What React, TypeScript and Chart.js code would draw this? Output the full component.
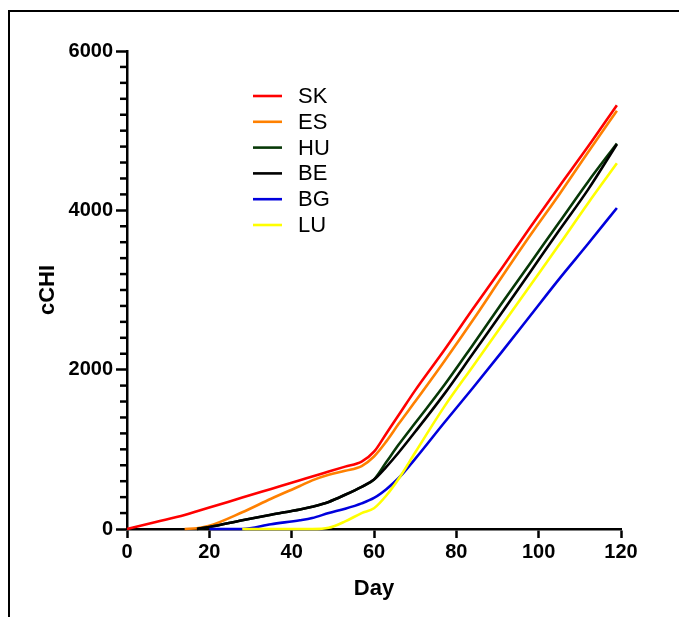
import React, { useEffect, useRef } from "react";
import { Chart, registerables } from "chart.js";

Chart.register(...registerables);

const days = [0, 7, 14, 17, 20, 28, 35, 42, 45, 49, 53, 57, 60, 63, 66, 70, 77, 84, 91, 98, 105, 112, 119];
const seriesNames = ["SK", "ES", "HU", "BE", "BG", "LU"];
const skValues = [0, 88, 176, 223, 270, 394, 503, 612, 659, 721, 783, 845, 970, 1200, 1430, 1740, 2240, 2760, 3270, 3790, 4300, 4800, 5320];
const esValues = [null, null, 0, 10, 40, 210, 380, 540, 610, 680, 730, 790, 910, 1100, 1320, 1600, 2100, 2620, 3160, 3690, 4200, 4730, 5250];
const huValues = [null, null, null, 0, 25, 110, 180, 245, 280, 340, 430, 530, 620, 840, 1060, 1330, 1800, 2310, 2830, 3340, 3850, 4360, 4840];
const beValues = [null, null, null, 0, 25, 110, 180, 245, 280, 340, 430, 530, 620, 780, 960, 1220, 1690, 2200, 2710, 3230, 3750, 4260, 4830];
const bgValues = [null, null, null, null, 0, 0, 60, 110, 138, 200, 255, 322, 390, 500, 640, 880, 1330, 1770, 2220, 2680, 3140, 3580, 4030];
const luValues = [null, null, null, null, null, 0, 0, 0, 0, 15, 95, 200, 260, 420, 630, 960, 1530, 2040, 2550, 3060, 3570, 4090, 4590];
const seriesColors = ["#ff0000", "#ff8000", "#073807", "#000000", "#0000dd", "#ffff00"];
const xTickStep = 20;
const xMin = 0;
const xMax = 120;
const yMin = 0;
const yMax = 6000;
const yMajorStep = 2000;
const yMinorStep = 200;

const FONT = "'Liberation Sans', Arial, Helvetica, sans-serif";

export default function App() {
  const ref = useRef<HTMLCanvasElement>(null);

  useEffect(() => {
    const canvas = ref.current;
    if (!canvas) return;
    const values = [skValues, esValues, huValues, beValues, bgValues, luValues];
    const datasets = seriesNames.map((name, i) => ({
      label: name,
      data: days.map((d, j) => ({ x: d, y: values[i][j] })),
      borderColor: seriesColors[i],
      backgroundColor: seriesColors[i],
      borderWidth: 2.6,
      pointRadius: 0,
      cubicInterpolationMode: "monotone" as const,
      fill: false,
      clip: false as any,
      spanGaps: false,
      order: seriesNames.length - 1 - i,
    }));

    const minorTicks = {
      id: "minorTicks",
      afterDraw(chart: any) {
        const y = chart.scales.y;
        const ctx = chart.ctx;
        const left = chart.chartArea.left;
        ctx.save();
        ctx.strokeStyle = "#000";
        ctx.lineWidth = 2.5;
        for (let v = yMin + yMinorStep; v < yMax; v += yMinorStep) {
          if (v % yMajorStep === 0) continue;
          const py = y.getPixelForValue(v);
          ctx.beginPath();
          ctx.moveTo(left - 7, py);
          ctx.lineTo(left, py);
          ctx.stroke();
        }
        ctx.restore();
      },
    };

    const innerLegend = {
      id: "innerLegend",
      afterDatasetsDraw(chart: any) {
        const ctx = chart.ctx;
        const { left, top } = chart.chartArea;
        ctx.save();
        ctx.font = `22px ${FONT}`;
        ctx.textBaseline = "middle";
        ctx.textAlign = "left";
        seriesNames.forEach((name, i) => {
          const yy = top + 45 + i * 25.8;
          ctx.strokeStyle = seriesColors[i];
          ctx.lineWidth = 2.6;
          ctx.beginPath();
          ctx.moveTo(left + 126, yy);
          ctx.lineTo(left + 155, yy);
          ctx.stroke();
          ctx.fillStyle = "#000";
          ctx.fillText(name, left + 171, yy + 1);
        });
        ctx.restore();
      },
    };

    const chart = new Chart(canvas, {
      type: "line",
      data: { datasets },
      options: {
        animation: false,
        responsive: false,
        maintainAspectRatio: false,
        layout: { padding: { left: 0, right: 58, top: 51, bottom: 0 } },
        plugins: { legend: { display: false }, tooltip: { enabled: false } },
        scales: {
          x: {
            type: "linear",
            min: xMin,
            max: xMax,
            afterFit: (s: any) => { s.height = 88; },
            ticks: { stepSize: xTickStep, color: "#000", font: { family: FONT, size: 20, weight: "bold" }, padding: 2, callback: (v: any) => String(v) },
            grid: { drawOnChartArea: false, tickLength: 9, tickColor: "#000", tickWidth: 2.5 },
            border: { color: "#000", width: 2.5 },
            title: { display: true, text: "Day", color: "#000", font: { family: FONT, size: 22, weight: "bold" }, padding: { top: 0, bottom: 15 } },
          },
          y: {
            type: "linear",
            min: yMin,
            max: yMax,
            afterFit: (s: any) => { s.width = 127; },
            ticks: { stepSize: yMajorStep, color: "#000", font: { family: FONT, size: 20, weight: "bold" }, padding: 3, callback: (v: any) => String(v) },
            grid: { drawOnChartArea: false, tickLength: 11, tickColor: "#000", tickWidth: 2.5 },
            border: { color: "#000", width: 2.5 },
            title: { display: true, text: "cCHI", color: "#000", font: { family: FONT, size: 22, weight: "bold" }, padding: { top: 35, bottom: 0 } },
          },
        },
      },
      plugins: [minorTicks, innerLegend],
    });
    return () => chart.destroy();
  }, []);

  return (
    <div style={{ position: "absolute", left: 0, top: 0, width: 679, height: 617, overflow: "hidden", background: "#fff" }}>
      <div style={{ position: "absolute", left: 8, top: 10, width: 700, height: 700, borderTop: "2px solid #000", borderLeft: "2px solid #000" }} />
      <canvas ref={ref} width={679} height={617} style={{ position: "absolute", left: 0, top: 0, width: 679, height: 617 }} />
    </div>
  );
}
